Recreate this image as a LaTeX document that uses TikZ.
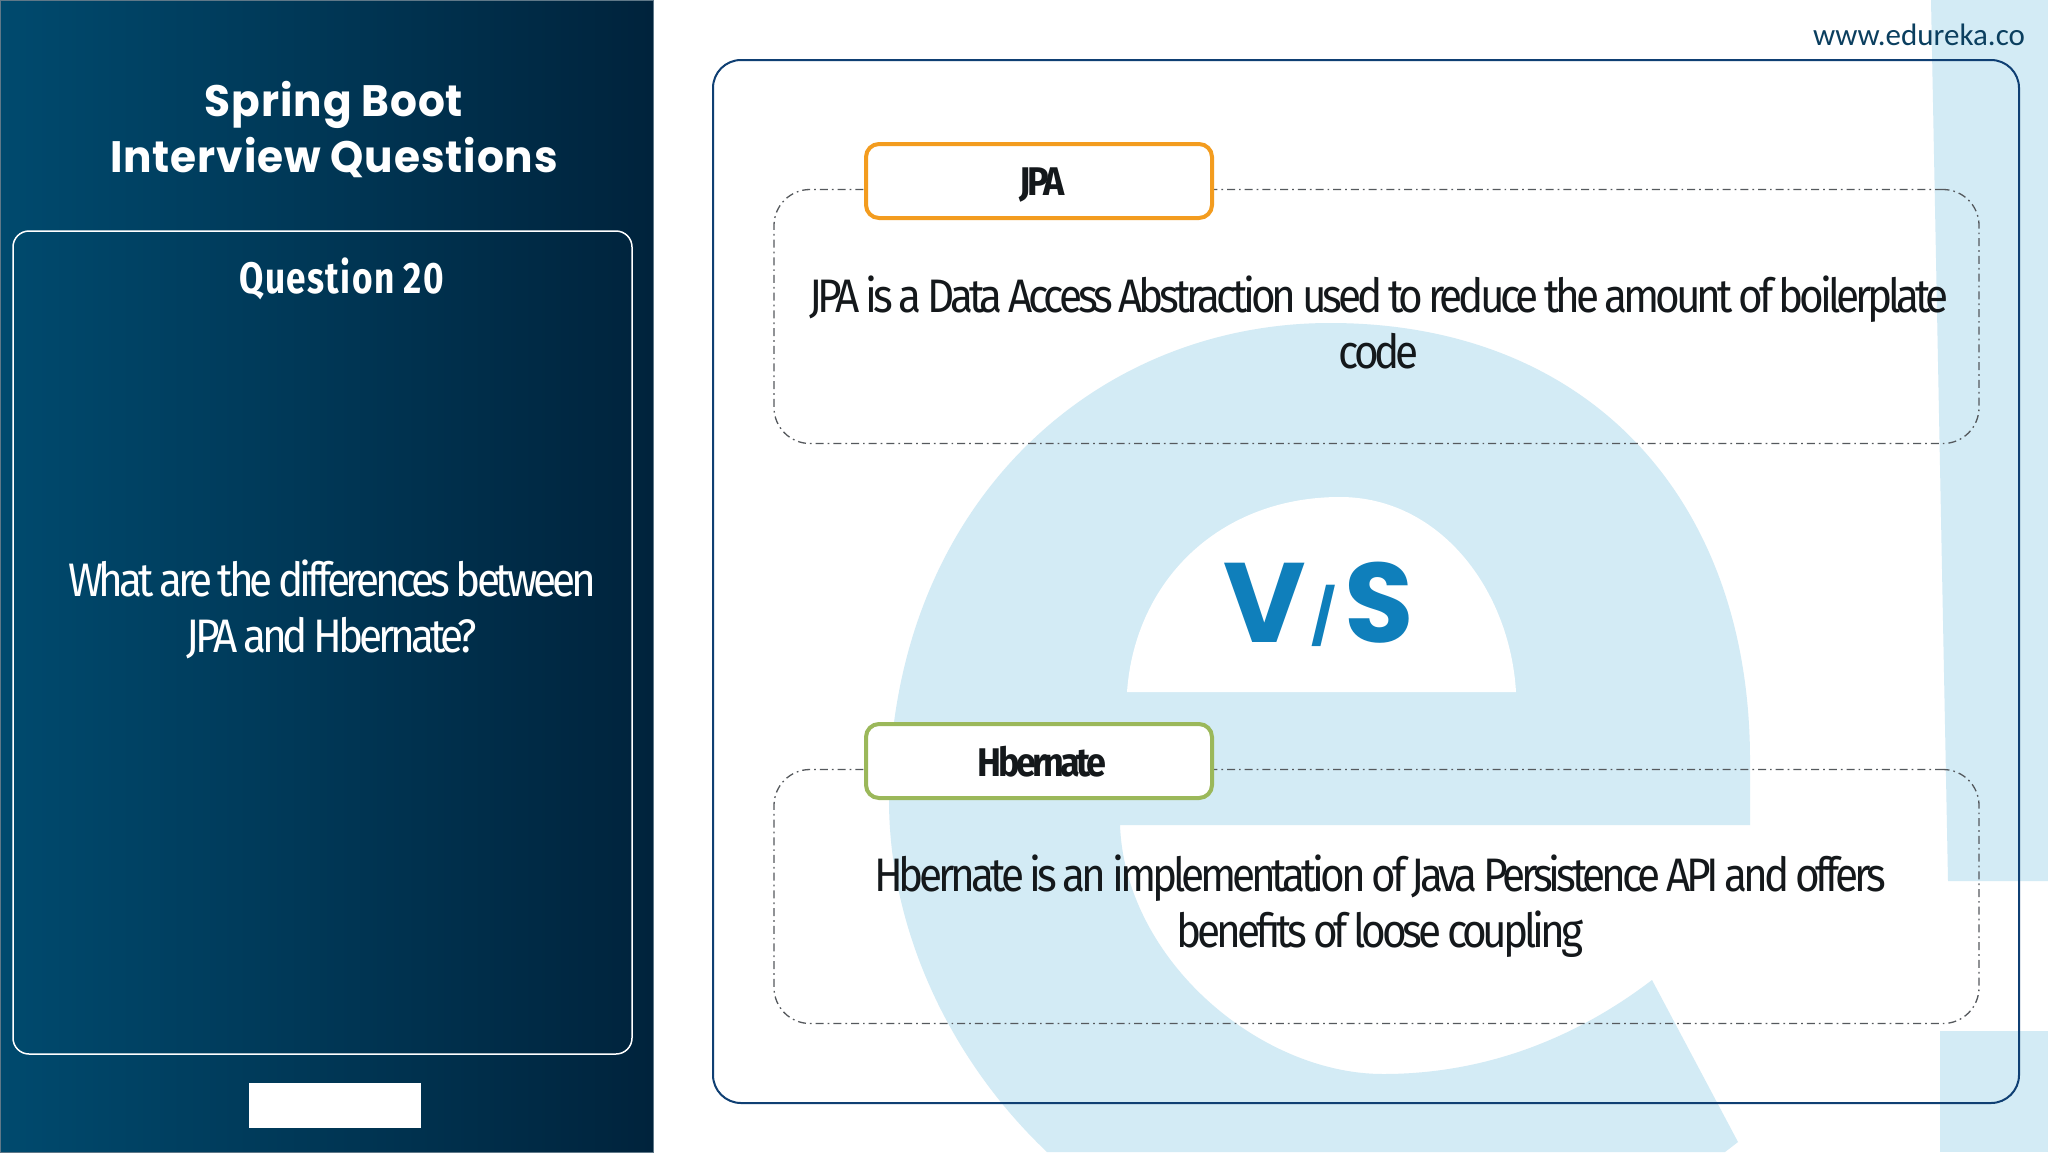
\documentclass[tikz,border=0pt]{standalone}
\usepackage{fontspec}
\usepackage{xcolor}
\usetikzlibrary{positioning}
\newfontfamily\titlefont[FakeStretch=0.96,LetterSpace=2]{Poppins}
\newfontfamily\bodyfont[FakeStretch=0.9,LetterSpace=-8.8,WordSpace=0.8]{Fira Sans}
\newfontfamily\qfont[FakeStretch=0.8,LetterSpace=3]{Fira Sans}
\newfontfamily\webfont{Carlito}
\newfontfamily\vsfont{Poppins}
\definecolor{panelleft}{HTML}{004A6E}
\definecolor{panelmid}{HTML}{003E60}
\definecolor{panelright}{HTML}{00233C}
\definecolor{paneledge}{HTML}{5F7888}
\definecolor{wmblue}{HTML}{D3EBF5}
\definecolor{navy}{HTML}{0F3F73}
\definecolor{dashgrey}{HTML}{55595D}
\definecolor{jpaorange}{HTML}{F39C1F}
\definecolor{hibgreen}{HTML}{9BB85A}
\definecolor{vsblue}{HTML}{0F7FBB}
\definecolor{webblue}{HTML}{0B3F5F}
\definecolor{textblack}{HTML}{14181B}
\begin{document}
\begin{tikzpicture}[x=1pt,y=-1pt,
    boxnode/.style={rectangle,inner sep=0pt,outer sep=0pt},
    dashbox/.style={boxnode,draw=dashgrey,line width=1.3pt,rounded corners=36pt,
      dash pattern=on 8pt off 4pt on 1.7pt off 4pt,minimum width=1205pt,minimum height=254pt},
    labelbox/.style={boxnode,fill=white,line width=4pt,rounded corners=13pt,
      minimum width=346pt,minimum height=74pt},
    labeltext/.style={text=textblack,inner sep=0pt,font=\bodyfont\bfseries\fontsize{40}{46}\selectfont},
    bodytext/.style={align=center,text=textblack,font=\bodyfont\fontsize{47}{56}\selectfont},
    paneltext/.style={align=center,text=white}]
  \useasboundingbox (0,0) rectangle (2048,1152);
  \fill[white] (0,0) rectangle (2048,1152);
  \fill[wmblue] (1931,0) -- (1948,881) -- (2048,881) -- (2048,0) -- cycle;
  \fill[wmblue] (1940,1031) rectangle (2048,1152);
  \fill[wmblue] (1750,825) -- (1750,760) .. controls (1750,500) and (1590,323) .. (1330,323)
    .. controls (1090,323) and (889,510) .. (889,800)
    .. controls (889,930) and (950,1060) .. (1047,1152)
    -- (1725,1152) -- (1738,1142) -- (1652,980)
    .. controls (1580,1035) and (1490,1074) .. (1383,1074)
    .. controls (1260,1074) and (1125,960) .. (1120,825) -- cycle;
  \fill[white] (1127,692) .. controls (1135,580) and (1220,497) .. (1340,497)
    .. controls (1440,497) and (1510,590) .. (1516,692) -- cycle;
  \shade[left color=panelleft,middle color=panelmid,right color=panelright] (0,0) rectangle (653,1152);
  \draw[paneledge,line width=1pt] (0,0) rectangle (653,1152);
  \node[boxnode,draw=white,line width=1.5pt,rounded corners=16pt,minimum width=619pt,minimum height=823pt] (qbox) at (322.5,642.5) {};
  \node[boxnode,fill=white,minimum width=172pt,minimum height=45pt] (tag) at (335,1105.5) {};
  \node[paneltext,font=\titlefont\bfseries\fontsize{44}{56}\selectfont] (title) at (334,130) {Spring Boot\\Interview Questions};
  \node[paneltext,font=\qfont\bfseries\fontsize{44}{56}\selectfont] (qnum) at (342,279) {Question 20};
  \node[paneltext,font=\bodyfont\fontsize{47}{56}\selectfont] (question) at (332,609) {What are the differences between\\JPA and Hbernate?};
  \node[boxnode,draw=navy,line width=2pt,rounded corners=28pt,minimum width=1306pt,minimum height=1043pt] (frame) at (1366,581.5) {};
  \node[text=webblue,font=\webfont\fontsize{31}{36}\selectfont] (web) at (1919,35) {www.edureka.co};
  \node[dashbox] (jpabox) at (1376.5,316.5) {};
  \node[dashbox] (hibbox) at (1376.5,896.5) {};
  \node[labelbox,draw=jpaorange] (jpa) at (1039,181) {};
  \node[labelbox,draw=hibgreen] (hib) at (1039,761) {};
  \node[labeltext] (jpalabel) at ([xshift=3pt,yshift=-4pt]jpa.center) {JPA};
  \node[labeltext] (hiblabel) at ([xshift=3pt,yshift=-1pt]hib.center) {Hbernate};
  \node[bodytext] (jpatext) at (1379,322) {JPA is a Data Access Abstraction used to reduce the amount of boilerplate\\code};
  \node[bodytext] (hibtext) at (1380,906) {Hbernate is an implementation of Java Persistence API and offers\\benefits of loose coupling};
  \node[text=vsblue,inner sep=0pt,font=\vsfont\bfseries\fontsize{113}{113}\selectfont] (vs) at (1319,604) {V\kern5pt\raisebox{6pt}{\fontsize{54}{54}\selectfont/}\kern9pt S};
\end{tikzpicture}
\end{document}
